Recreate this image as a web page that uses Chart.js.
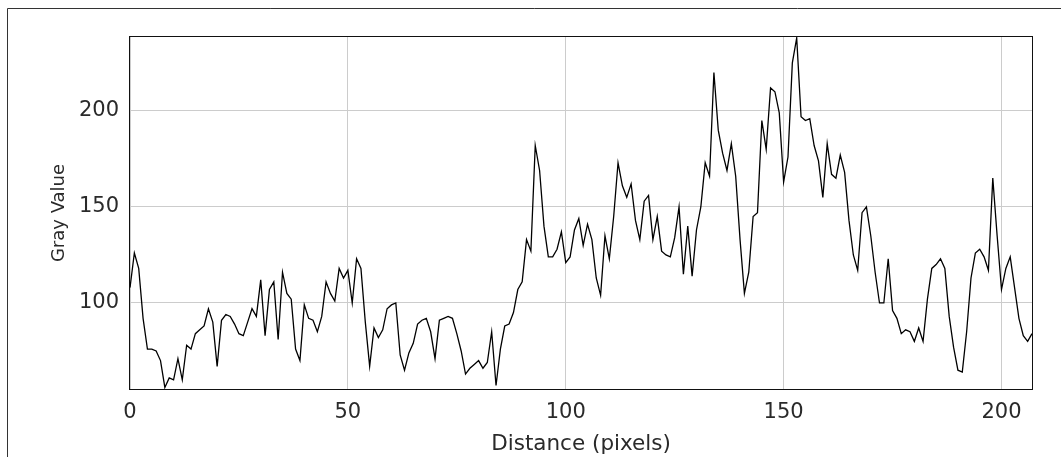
<!DOCTYPE html>
<html>
<head>
<meta charset="utf-8">
<script src="https://cdn.jsdelivr.net/npm/chart.js@4"></script>
<style>
  html, body { margin: 0; padding: 0; background: #fff; }
  #wrap { position: relative; width: 1061px; height: 457px; }
  canvas { display: block; }
</style>
</head>
<body>
<div id="wrap"><canvas id="c" width="1061" height="457"></canvas></div>
<script>
// Gray values along the profile line, one per pixel of distance (0..207)
const grayValues = [
  108,126,118,92,76,76,75,70,56,61,
  60,71,60,78,76,84,86,88,97,90,
  67,91,94,93,89,84,83,90,97,93,
  112,83,107,111,81,116,105,102,76,70,
  99,92,91,85,93,111,105,101,118,113,
  117,100,123,118,90,67,87,82,86,97,
  99,100,73,65,74,79,89,91,92,85,
  71,91,92,93,92,84,75,63,66,68,
  70,66,69,85,57,76,88,89,95,107,
  111,133,127,182,169,140,124,124,128,137,
  121,124,138,144,130,141,133,113,104,135,
  123,145,173,161,155,162,143,133,153,156,
  133,145,127,125,124,134,150,115,140,114,
  138,150,173,166,220,190,178,169,183,166,
  133,105,116,145,147,195,180,212,210,199,
  163,176,225,238,197,195,196,182,174,155,
  183,167,165,177,168,143,125,117,147,150,
  135,116,100,100,123,96,92,84,86,85,
  80,87,80,102,118,120,123,118,93,77,
  65,64,85,113,126,128,124,117,165,135,
  107,118,124,108,92,83,80,84
];
// Distance (pixels) of each sample
const distances = grayValues.map((_, i) => i);
const xTickValues = [0, 50, 100, 150, 200];
const yTickValues = [100, 150, 200];
const xRange = [0, 207];
const yRange = [55.2, 238.5];
const xTitle = 'Distance (pixels)';
const yTitle = 'Gray Value';

const points = distances.map((d, i) => ({ x: d, y: grayValues[i] }));

const framePlugin = {
  id: 'frames',
  beforeDraw(chart) {
    const ctx = chart.ctx;
    ctx.save();
    ctx.fillStyle = '#fff';
    ctx.fillRect(0, 0, chart.width, chart.height);
    ctx.strokeStyle = '#333';
    ctx.lineWidth = 1;
    ctx.beginPath();
    ctx.moveTo(7.5, chart.height);
    ctx.lineTo(7.5, 8.5);
    ctx.lineTo(chart.width, 8.5);
    ctx.stroke();
    ctx.restore();
  },
  afterDatasetsDraw(chart) {
    const a = chart.chartArea;
    const ctx = chart.ctx;
    ctx.save();
    ctx.strokeStyle = '#111';
    ctx.lineWidth = 1;
    ctx.strokeRect(Math.round(a.left) - 0.5, Math.round(a.top) - 0.5,
                   Math.round(a.right - a.left) + 1, Math.round(a.bottom - a.top) + 1);
    ctx.restore();
  }
};

const tickFont = { family: 'DejaVu Sans', size: 21 };

new Chart(document.getElementById('c'), {
  type: 'line',
  data: {
    datasets: [{
      data: points,
      borderColor: '#000',
      borderWidth: 1.3,
      pointRadius: 0,
      tension: 0,
      fill: false
    }]
  },
  options: {
    responsive: false,
    devicePixelRatio: 1,
    animation: false,
    parsing: false,
    layout: { padding: { left: 0, top: 37, right: 29, bottom: 0 } },
    plugins: { legend: { display: false }, tooltip: { enabled: false } },
    scales: {
      x: {
        type: 'linear',
        min: xRange[0],
        max: xRange[1],
        afterBuildTicks(scale) { scale.ticks = xTickValues.map(v => ({ value: v })); },
        afterFit(scale) { scale.height = 68; },
        grid: { color: '#cccccc', lineWidth: 1, drawTicks: false },
        border: { display: false },
        ticks: { font: tickFont, color: '#2a2a2a', padding: 11, maxRotation: 0, autoSkip: false },
        title: {
          display: true, text: xTitle, color: '#2a2a2a',
          font: { family: 'DejaVu Sans', size: 21.5 },
          padding: { top: 0, bottom: 0 }
        }
      },
      y: {
        type: 'linear',
        min: yRange[0],
        max: yRange[1],
        afterBuildTicks(scale) { scale.ticks = yTickValues.map(v => ({ value: v })); },
        afterFit(scale) { scale.width = 130; },
        grid: { color: '#cccccc', lineWidth: 1, drawTicks: false },
        border: { display: false },
        ticks: { font: tickFont, color: '#2a2a2a', padding: 11 },
        title: {
          display: true, text: yTitle, color: '#2a2a2a',
          font: { family: 'DejaVu Sans', size: 18 },
          padding: { top: 49, bottom: 0 }
        }
      }
    }
  },
  plugins: [framePlugin]
});
</script>
</body>
</html>
